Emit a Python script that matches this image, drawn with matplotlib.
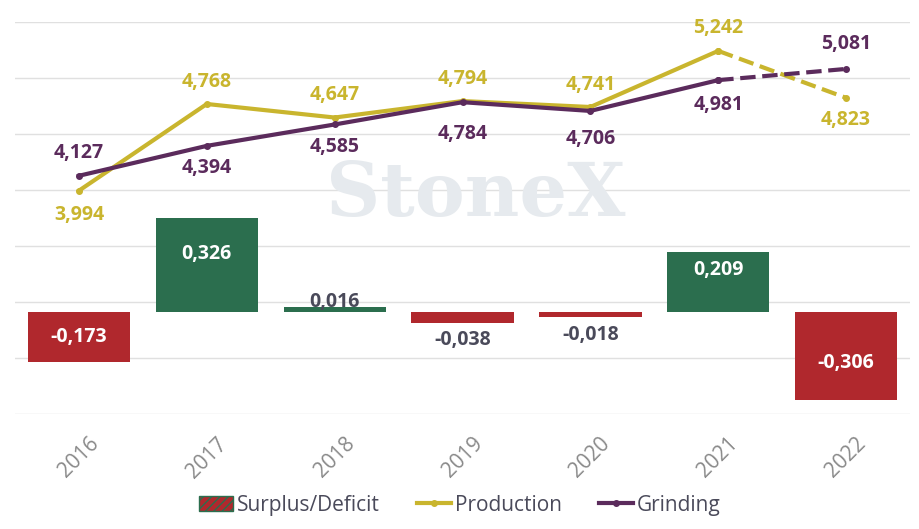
import numpy as np
import matplotlib.pyplot as plt
from matplotlib.patches import Patch
from matplotlib.lines import Line2D

years = ["2016", "2017", "2018", "2019", "2020", "2021", "2022"]
balance = [-0.173, 0.326, 0.016, -0.038, -0.018, 0.209, -0.306]
production = [3.994, 4.768, 4.647, 4.794, 4.741, 5.242, 4.823]
grinding = [4.127, 4.394, 4.585, 4.784, 4.706, 4.981, 5.081]

RED, GREEN, GOLD, PURPLE = "#B0282D", "#2B6E4E", "#C9B52E", "#5B2B5C"
TXT = "#4A4A5A"

def fmt(v):
    return f"{v:.3f}".replace(".", ",")

plt.rcParams['font.family'] = ['Open Sans', 'DejaVu Sans']
fig = plt.figure(figsize=(9.2, 5.29), dpi=100)
ax = fig.add_axes([15/920, 1-414/529, 895/920, 392/529])
x = np.arange(len(years))

B0, B1, L0, L1 = -0.354, 1.007, 2.0, 5.5
ax.set_ylim(B0, B1)
ax.set_xlim(-0.5, 6.5)
grid_b = [B0 + (v - L0) / (L1 - L0) * (B1 - B0) for v in np.arange(2.0, 5.51, 0.5)]
ax.set_yticks(grid_b)
ax.grid(axis='y', color='#E0E0E0', lw=1, zorder=0)
ax.set_axisbelow(True)
cols = [GREEN if v > 0 else RED for v in balance]
ax.bar(x, balance, width=0.8, color=cols, zorder=2)
for i, v in enumerate(balance):
    if abs(v) > 0.1:
        ax.text(i, v / 2 + (0.04 if v > 0 else 0.0) - (0.025 if i == 6 else 0), fmt(v),
                ha='center', va='center', color='white', fontsize=14, fontweight='bold', zorder=3)
    else:
        ax.text(i, v + (0.02 if v > 0 else -0.06), fmt(v), ha='center', va='center',
                color=TXT, fontsize=14, fontweight='bold', zorder=3)

ax2 = ax.twinx()
ax2.set_ylim(L0, L1)
ax2.plot(x[:6], production[:6], color=GOLD, lw=3, marker='o', ms=4, zorder=4)
ax2.plot(x[5:], production[5:], color=GOLD, lw=3, ls='--', marker='o', ms=4, zorder=4)
ax2.plot(x[:6], grinding[:6], color=PURPLE, lw=3, marker='o', ms=4, zorder=4)
ax2.plot(x[5:], grinding[5:], color=PURPLE, lw=3, ls='--', marker='o', ms=4, zorder=4)

prod_off = [-0.22, 0.2, 0.2, 0.2, 0.2, 0.2, -0.2]
grind_off = [0.2, -0.2, -0.2, -0.28, -0.25, -0.22, 0.22]
for i in range(len(years)):
    ax2.text(i, production[i] + prod_off[i], fmt(production[i]), ha='center', va='center',
             color=GOLD, fontsize=14, fontweight='bold', zorder=5)
    ax2.text(i, grinding[i] + grind_off[i], fmt(grinding[i]), ha='center', va='center',
             color=PURPLE, fontsize=14, fontweight='bold', zorder=5)

ax2.text(3.1, 3.95, "StoneX", ha='center', va='center', fontsize=54, color='#E6EAEE',
         family='DejaVu Serif', fontweight='bold', zorder=1)

for a in (ax, ax2):
    for s in a.spines.values():
        s.set_visible(False)
    a.tick_params(length=0)
ax.set_yticklabels([])
ax2.set_yticks([])
ax.set_xticks(x)
ax.set_xticklabels(years, rotation=45, fontsize=15, color='#8A8A8A', ha='center')
ax.tick_params(axis='x', pad=14)

handles = [Patch(facecolor=RED, edgecolor=GREEN, hatch='////'),
           Line2D([], [], color=GOLD, lw=3, marker='o', ms=4),
           Line2D([], [], color=PURPLE, lw=3, marker='o', ms=4)]
fig.legend(handles, ["Surplus/Deficit", "Production", "Grinding"], loc='lower center',
           ncol=3, frameon=False, fontsize=15, bbox_to_anchor=(0.5, -0.01),
           handlelength=1.6, handletextpad=0.2, columnspacing=1.8, labelcolor=TXT)

fig.savefig("out.png", dpi=100)
